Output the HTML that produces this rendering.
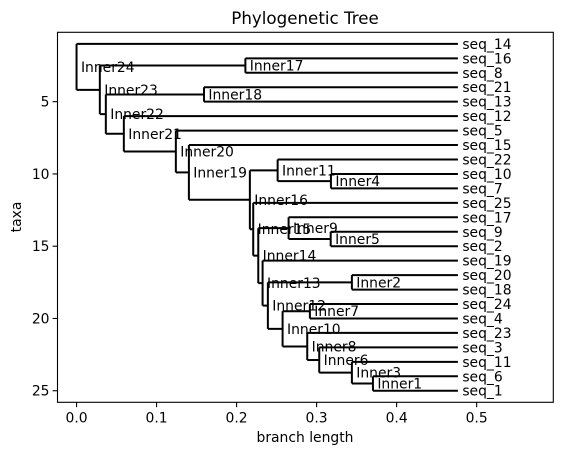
<!DOCTYPE html>
<html><head><meta charset="utf-8"><style>
html,body{margin:0;padding:0;background:#fff;}
svg{display:block;font-family:"DejaVu Sans","Liberation Sans",sans-serif;}
</style></head><body>
<svg id="chart" width="562" height="455" viewBox="0 0 562 455">
<rect width="562" height="455" fill="#fff"/>
<text x="305" y="24" font-size="16.7" text-anchor="middle">Phylogenetic Tree</text>
<text x="305" y="442" font-size="13.9" text-anchor="middle">branch length</text>
<text transform="translate(21,217) rotate(-90)" font-size="13.9" text-anchor="middle">taxa</text>
<g id="plot"></g>
</svg>
<script>
const leafNames = ["seq_14","seq_16","seq_8","seq_21","seq_13","seq_12","seq_5","seq_15","seq_22","seq_10","seq_7","seq_25","seq_17","seq_9","seq_2","seq_19","seq_20","seq_18","seq_24","seq_4","seq_23","seq_3","seq_11","seq_6","seq_1"];
const leafX = [0.4766,0.4766,0.4766,0.4766,0.4766,0.4766,0.4766,0.4766,0.4766,0.4766,0.4766,0.4766,0.4766,0.4766,0.4766,0.4766,0.4766,0.4766,0.4766,0.4766,0.4766,0.4766,0.4766,0.4766,0.4766];
const innerNames = ["Inner24","Inner23","Inner17","Inner22","Inner18","Inner21","Inner20","Inner19","Inner16","Inner11","Inner4","Inner15","Inner14","Inner9","Inner5","Inner13","Inner2","Inner12","Inner7","Inner10","Inner8","Inner6","Inner3","Inner1"];
const innerX = [0.0,0.0291,0.211,0.0366,0.1593,0.0591,0.1241,0.1404,0.2166,0.2513,0.3179,0.2208,0.2271,0.2650,0.3176,0.2325,0.3441,0.2391,0.2916,0.2575,0.2883,0.3033,0.3441,0.3704];
const innerChildren = [["seq_14","Inner23"],["Inner17","Inner22"],["seq_16","seq_8"],["Inner18","Inner21"],["seq_21","seq_13"],["seq_12","Inner20"],["seq_5","Inner19"],["seq_15","Inner16"],["Inner11","Inner15"],["seq_22","Inner4"],["seq_10","seq_7"],["seq_25","Inner14"],["Inner9","Inner13"],["seq_17","Inner5"],["seq_9","seq_2"],["seq_19","Inner12"],["seq_20","seq_18"],["Inner2","Inner10"],["seq_24","seq_4"],["Inner7","Inner8"],["seq_23","Inner6"],["seq_3","Inner3"],["seq_11","Inner1"],["seq_6","seq_1"]];
const xTicks = [0.0,0.1,0.2,0.3,0.4,0.5];
const xTickLabels = ["0.0","0.1","0.2","0.3","0.4","0.5"];
const yTicks = [5,10,15,20,25];
const yTickLabels = ["5","10","15","20","25"];

const L=57.5,R=553.3,T=32.3,B=402.3;
const xMin=-0.0238,xMax=0.5958,yTop=0.2,yBot=25.8;
const sx=v=>L+(v-xMin)/(xMax-xMin)*(R-L);
const sy=v=>T+(v-yTop)/(yBot-yTop)*(B-T);
const NS="http://www.w3.org/2000/svg";
const g=document.getElementById('plot');
function mk(tag,attrs){const e=document.createElementNS(NS,tag);for(const k in attrs)e.setAttribute(k,attrs[k]);return e;}

const pos={};
leafNames.forEach((n,i)=>{pos[n]={x:leafX[i],y:i+1};});
const idx={};innerNames.forEach((n,i)=>idx[n]=i);
function getY(n){
  if(pos[n]&&pos[n].y!==undefined)return pos[n].y;
  const i=idx[n];const c=innerChildren[i];
  const y=(getY(c[0])+getY(c[1]))/2;
  pos[n]={x:innerX[i],y:y};return y;
}
innerNames.forEach(getY);
const parentX={};parentX["Inner24"]=0;
innerNames.forEach((n,i)=>{innerChildren[i].forEach(c=>{parentX[c]=innerX[i];});});

// branches
innerNames.concat(leafNames).forEach(n=>{
  const p=pos[n];
  const h=mk('line',{x1:sx(parentX[n]),x2:sx(p.x),y1:sy(p.y),y2:sy(p.y),stroke:'#000','stroke-width':2});
  
  
  g.appendChild(h);
});
innerNames.forEach((n,i)=>{
  const c=innerChildren[i];
  const v=mk('line',{x1:sx(innerX[i]),x2:sx(innerX[i]),y1:sy(pos[c[0]].y),y2:sy(pos[c[1]].y),stroke:'#000','stroke-width':2});
  
  
  g.appendChild(v);
});
// labels
innerNames.concat(leafNames).forEach(n=>{
  const p=pos[n];
  const t=mk('text',{x:sx(p.x)+4.4,y:sy(p.y)+5,'font-size':13.9});
  t.textContent=n;
  
  
  g.appendChild(t);
});
// axes frame
const fr=mk('rect',{x:L,y:T,width:R-L,height:B-T,fill:'none',stroke:'#000','stroke-width':1.1});


g.appendChild(fr);
xTicks.forEach((v,i)=>{
  const tk=mk('line',{x1:sx(v),x2:sx(v),y1:B,y2:B+4.9,stroke:'#000','stroke-width':1.1});
  
  
  g.appendChild(tk);
  const t=mk('text',{x:sx(v),y:B+20,'font-size':13.9,'text-anchor':'middle'});
  t.textContent=xTickLabels[i];
  
  
  g.appendChild(t);
});
yTicks.forEach((v,i)=>{
  const tk=mk('line',{x1:L-4.9,x2:L,y1:sy(v),y2:sy(v),stroke:'#000','stroke-width':1.1});
  
  
  g.appendChild(tk);
  const t=mk('text',{x:L-8,y:sy(v)+5,'font-size':13.9,'text-anchor':'end'});
  t.textContent=yTickLabels[i];
  
  
  g.appendChild(t);
});
</script>
</body></html>
